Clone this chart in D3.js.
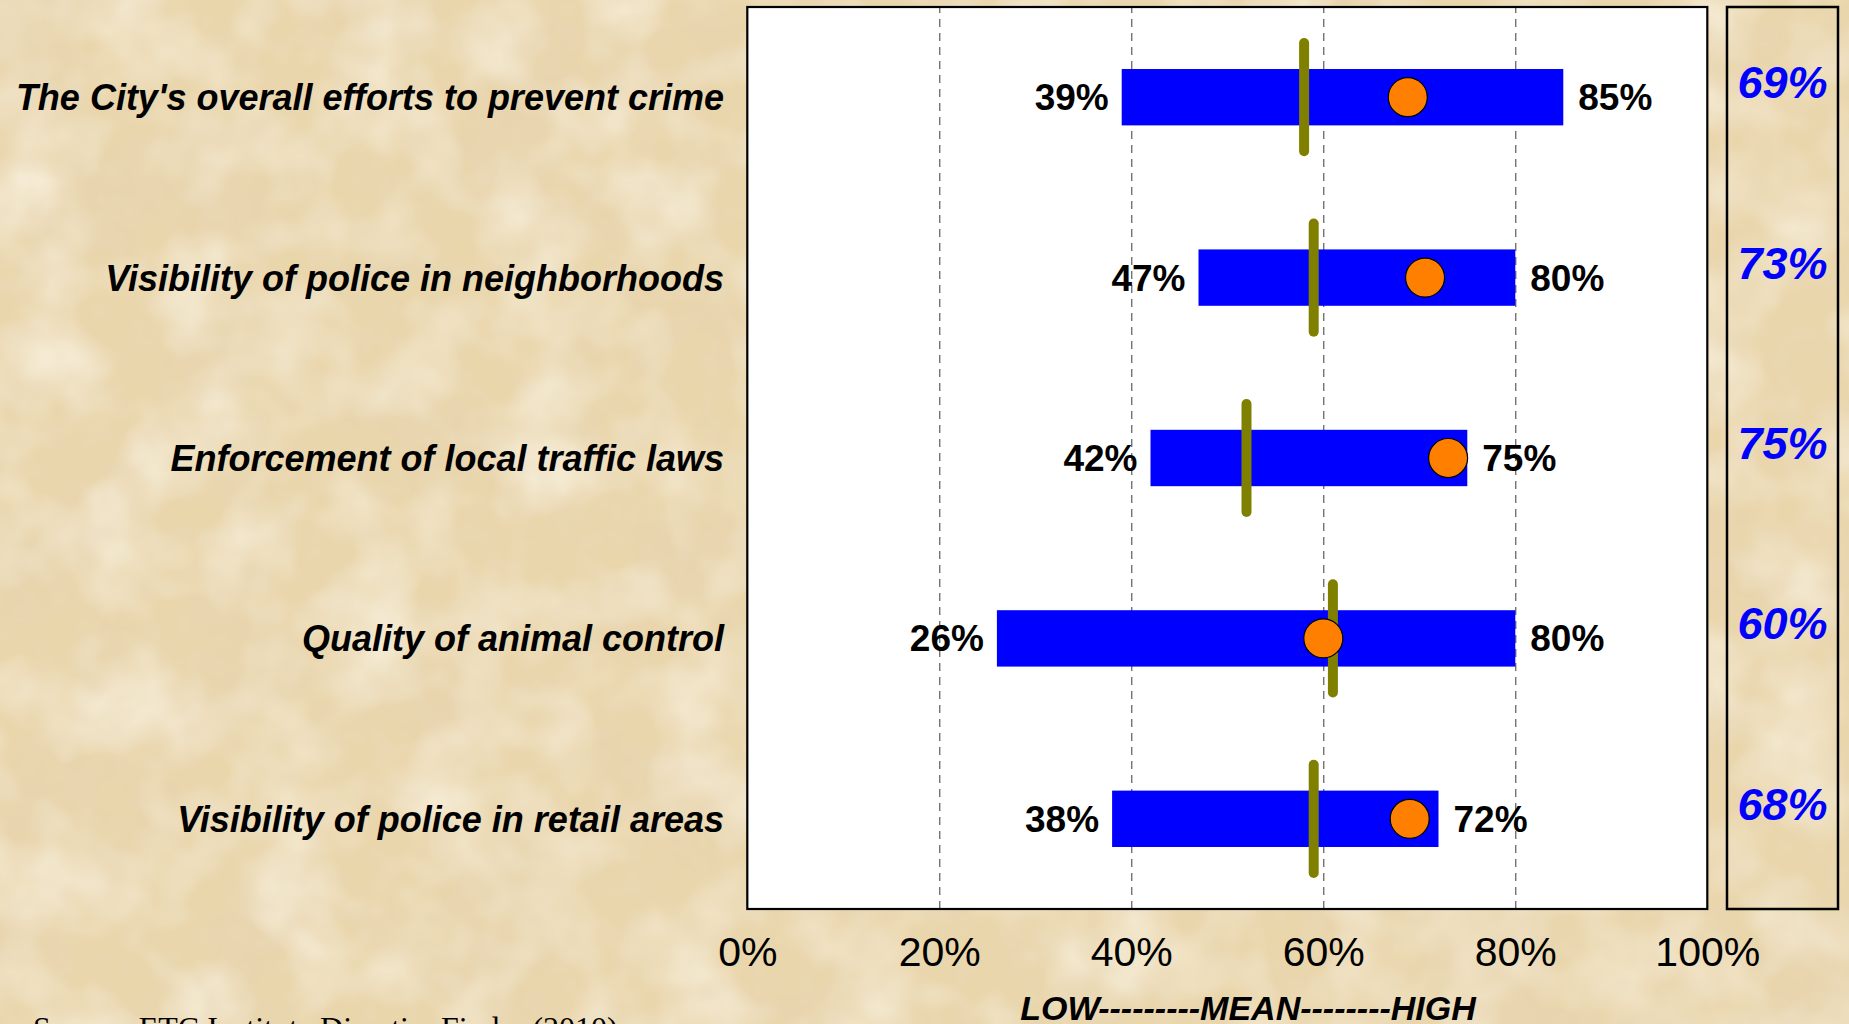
<!DOCTYPE html>
<html><head><meta charset="utf-8">
<script src="https://cdn.jsdelivr.net/npm/d3@7"></script>
<style>html,body{margin:0;padding:0;overflow:hidden;background:#e8d5aa} svg{display:block}</style>
</head><body>
<svg id="chart" width="1849" height="1024"></svg>
<script>
// ---- data ----
const categories = [
  "The City's overall efforts to prevent crime",
  "Visibility of police in neighborhoods",
  "Enforcement of local traffic laws",
  "Quality of animal control",
  "Visibility of police in retail areas"
];
const lowValues  = [39, 47, 42, 26, 38];
const highValues = [85, 80, 75, 80, 72];
const meanValues = [58, 59, 52, 61, 59];
const dotValues  = [68.8, 70.6, 73, 60, 69];
const cityLabels = [69, 73, 75, 60, 68];
const tickValues = [0, 20, 40, 60, 80, 100];
const gridValues = [20, 40, 60, 80];
const axisTitle = "LOW---------MEAN--------HIGH";
const sourceText = "Source:  ETC Institute DirectionFinder (2010)";

const rows = categories.map((c, i) => ({
  cat: c, low: lowValues[i], high: highValues[i], mean: meanValues[i],
  dot: dotValues[i], city: cityLabels[i]
}));

// ---- layout ----
const W = 1849, H = 1024;
const P = {left: 747.3, right: 1707.3, top: 7, bottom: 909};
const sideBox = {left: 1727, right: 1838};
const svg = d3.select("#chart");
const FONT = "'Liberation Sans', Arial, Helvetica, sans-serif";

// ---- parchment background ----
const defs = svg.append("defs");
const f = defs.append("filter").attr("id", "parch").attr("x", 0).attr("y", 0).attr("width", 1).attr("height", 1);
f.append("feTurbulence").attr("type", "fractalNoise").attr("baseFrequency", "0.007 0.008").attr("numOctaves", 3).attr("seed", 11).attr("result", "n1");
f.append("feColorMatrix").attr("in", "n1").attr("type", "matrix")
  .attr("values", "0 0 0 0 0.80  0 0 0 0 0.66  0 0 0 0 0.44  1.3 0 0 0 -0.55").attr("result", "dark");
f.append("feTurbulence").attr("type", "fractalNoise").attr("baseFrequency", "0.012").attr("numOctaves", 3).attr("seed", 4).attr("result", "n2");
f.append("feColorMatrix").attr("in", "n2").attr("type", "matrix")
  .attr("values", "0 0 0 0 0.97  0 0 0 0 0.92  0 0 0 0 0.80  0 1.3 0 0 -0.52").attr("result", "light");
f.append("feTurbulence").attr("type", "fractalNoise").attr("baseFrequency", "0.04").attr("numOctaves", 2).attr("seed", 9).attr("result", "n3");
f.append("feColorMatrix").attr("in", "n3").attr("type", "matrix")
  .attr("values", "0 0 0 0 0.82  0 0 0 0 0.70  0 0 0 0 0.50  0 0 0.8 0 -0.32").attr("result", "grain");
f.append("feMerge").selectAll("feMergeNode").data(["SourceGraphic", "dark", "light", "grain"]).join("feMergeNode").attr("in", d => d);

svg.append("rect").attr("width", W).attr("height", H).attr("fill", "#e9d6ab").attr("filter", "url(#parch)");

// ---- scales ----
const x = d3.scaleLinear().domain([0, 100]).range([P.left, P.right]);
const y = d3.scaleBand().domain(categories).range([P.top, P.bottom]).padding(0);
const bw = y.bandwidth();
const cy = d => y(d.cat) + bw / 2;

// plot area
svg.append("rect").attr("x", P.left).attr("y", P.top).attr("width", P.right - P.left).attr("height", P.bottom - P.top)
  .attr("fill", "#ffffff");

// gridlines
const grid = svg.append("g").attr("transform", `translate(0,${P.bottom})`)
  .call(d3.axisBottom(x).tickValues(gridValues).tickSize(-(P.bottom - P.top)).tickFormat(""));
grid.select(".domain").remove();
grid.selectAll(".tick line").attr("stroke", "#3a3a3a").attr("stroke-width", 1).attr("stroke-dasharray", "8,6");

// bars
const barH = bw * 0.3125;
svg.append("g").selectAll("rect").data(rows).join("rect")
  .attr("x", d => x(d.low)).attr("width", d => x(d.high) - x(d.low))
  .attr("y", d => cy(d) - barH / 2).attr("height", barH)
  .attr("fill", "#0000ff");

// mean lines
const meanLen = bw * 0.655;
svg.append("g").selectAll("line").data(rows).join("line")
  .attr("x1", d => x(d.mean)).attr("x2", d => x(d.mean))
  .attr("y1", d => cy(d) - meanLen / 2 + 5).attr("y2", d => cy(d) + meanLen / 2 - 5)
  .attr("stroke", "#808000").attr("stroke-width", 10).attr("stroke-linecap", "round");

// dots
svg.append("g").selectAll("circle").data(rows).join("circle")
  .attr("cx", d => x(d.dot)).attr("cy", d => cy(d)).attr("r", 19.5)
  .attr("fill", "#ff8000").attr("stroke", "#000").attr("stroke-width", 1.2);

// plot border
svg.append("rect").attr("x", P.left).attr("y", P.top).attr("width", P.right - P.left).attr("height", P.bottom - P.top)
  .attr("fill", "none").attr("stroke", "#000").attr("stroke-width", 2.2);

// value labels
svg.append("g").selectAll("text").data(rows).join("text")
  .attr("x", d => x(d.low) - 13).attr("y", d => cy(d) + 13)
  .attr("text-anchor", "end").attr("font-family", FONT).attr("font-weight", "bold").attr("font-size", 37)
  .attr("fill", "#000").text(d => d.low + "%");
svg.append("g").selectAll("text").data(rows).join("text")
  .attr("x", d => x(d.high) + 15).attr("y", d => cy(d) + 13)
  .attr("text-anchor", "start").attr("font-family", FONT).attr("font-weight", "bold").attr("font-size", 37)
  .attr("fill", "#000").text(d => d.high + "%");

// category labels
svg.append("g").selectAll("text").data(rows).join("text")
  .attr("x", 724).attr("y", d => cy(d) + 13)
  .attr("text-anchor", "end").attr("font-family", FONT).attr("font-weight", "bold").attr("font-style", "italic")
  .attr("font-size", 36).attr("fill", "#000").text(d => d.cat);

// side box
svg.append("rect").attr("x", sideBox.left).attr("y", P.top).attr("width", sideBox.right - sideBox.left).attr("height", P.bottom - P.top)
  .attr("fill", "none").attr("stroke", "#000").attr("stroke-width", 2.5);
svg.append("g").selectAll("text").data(rows).join("text")
  .attr("x", (sideBox.left + sideBox.right) / 2).attr("y", d => cy(d) + 1)
  .attr("text-anchor", "middle").attr("font-family", FONT).attr("font-weight", "bold").attr("font-style", "italic")
  .attr("font-size", 45).attr("fill", "#0000ff").text(d => d.city + "%");

// x axis tick labels
const ax = svg.append("g").attr("transform", `translate(0,${P.bottom})`)
  .call(d3.axisBottom(x).tickValues(tickValues).tickSize(0).tickPadding(0).tickFormat(d => d + "%"));
ax.select(".domain").remove();
ax.selectAll(".tick text").attr("font-family", FONT).attr("font-size", 41).attr("fill", "#000")
  .attr("dy", null).attr("y", 57);

// axis title
svg.append("text").attr("x", 1248).attr("y", 1020).attr("text-anchor", "middle")
  .attr("font-family", FONT).attr("font-weight", "bold").attr("font-style", "italic").attr("font-size", 34)
  .attr("fill", "#000").text(axisTitle);

// source
svg.append("text").attr("x", 33).attr("y", 1039)
  .attr("font-family", "'Liberation Serif', 'Times New Roman', serif").attr("font-size", 32)
  .attr("fill", "#000").text(sourceText);
</script>
</body></html>
